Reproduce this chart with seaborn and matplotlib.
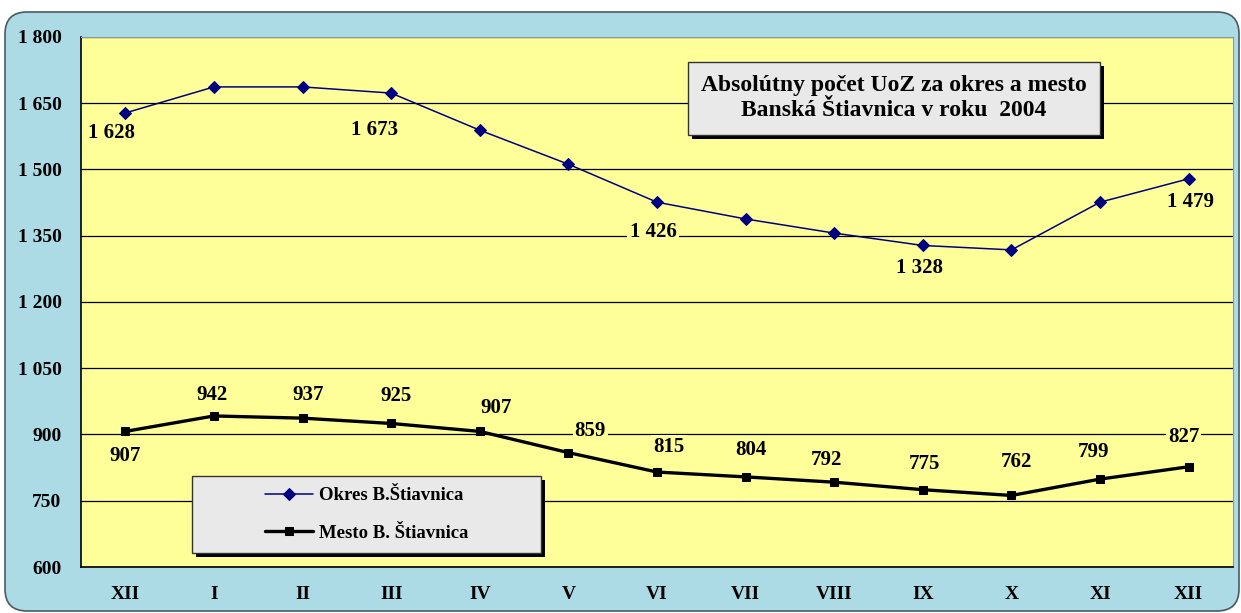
import numpy as np
import pandas as pd
import matplotlib
matplotlib.use("Agg")
import matplotlib.pyplot as plt
from matplotlib.patches import Rectangle, FancyBboxPatch
import seaborn as sns

# data
months = ["XII", "I", "II", "III", "IV", "V", "VI", "VII", "VIII", "IX", "X", "XI", "XII"]
okres = [1628, 1687, 1687, 1673, 1589, 1512, 1426, 1388, 1356, 1328, 1318, 1426, 1479]
mesto = [907, 942, 937, 925, 907, 859, 815, 804, 792, 775, 762, 799, 827]
yticks = [600, 750, 900, 1050, 1200, 1350, 1500, 1650, 1800]
title = "Absolútny počet UoZ za okres a mesto\nBanská Štiavnica v roku  2004"
label_okres = "Okres B.Štiavnica"
label_mesto = "Mesto B. Štiavnica"

# which points of the upper line carry a value label, and label offsets (px, down = +)
okres_lab_off = {0: (-14, 20), 3: (-17, 37), 6: (-4, 30), 9: (-3, 23), 12: (2, 23)}
mesto_lab_off = [(0, 25), (-2, -21), (6, -23), (5, -27), (16, -23), (22, -22), (12, -25),
                 (5, -27), (-8, -22), (2, -26), (5, -33), (-7, -27), (-5, -30)]

df = pd.DataFrame({"pos": np.arange(len(months)), "okres": okres, "mesto": mesto})

sns.set_style("white")
plt.rcParams["font.family"] = ["Liberation Serif", "DejaVu Serif"]
plt.rcParams["font.weight"] = "bold"
plt.rcParams["text.color"] = "black"
plt.rcParams["xtick.color"] = "black"
plt.rcParams["ytick.color"] = "black"

W, H = 1241, 613
fig = plt.figure(figsize=(W / 100, H / 100), dpi=100)
fig.patch.set_facecolor("white")

# outer rounded "water" frame
frame = FancyBboxPatch((0.05, 0.02), 12.34, 5.99, boxstyle="round,pad=0,rounding_size=0.22",
                       transform=fig.dpi_scale_trans, facecolor="#acdbe6",
                       edgecolor="#4a5a60", linewidth=1.2, zorder=-10)
fig.patches.append(frame)

L, R, T, B = 81, 1233, 37, 567
ax = fig.add_axes([L / W, (H - B) / H, (R - L) / W, (B - T) / H])
ax.set_zorder(1)
ax.set_facecolor("#ffff99")

yellow = "#ffff99"
sns.lineplot(data=df, x="pos", y="okres", ax=ax, color="#000080", linewidth=1.1,
             marker="D", markersize=6, markeredgecolor="#000080", label=label_okres)
sns.lineplot(data=df, x="pos", y="mesto", ax=ax, color="black", linewidth=2.4,
             marker="s", markersize=6, markeredgecolor="black", label=label_mesto)

ax.set_xlim(-0.5, len(months) - 0.5)
ax.set_ylim(yticks[0], yticks[-1])
ax.set_yticks(yticks)
ax.set_yticklabels([f"{v:,}".replace(",", " ") for v in yticks], fontsize=14, fontweight="bold")
ax.set_xticks(df["pos"])
ax.set_xticklabels(months, fontsize=14, fontweight="bold")
ax.set_xticks(np.arange(len(months) + 1) - 0.5, minor=True)
ax.tick_params(axis="x", which="major", length=0, pad=14)
ax.tick_params(axis="x", which="minor", length=5, width=1, color="black", direction="out")
ax.tick_params(axis="y", length=7, width=1, color="black", direction="out", pad=7)
ax.set_xlabel("")
ax.set_ylabel("")
ax.yaxis.grid(True, color="black", linewidth=0.9)
ax.set_axisbelow(True)
for s in ["left", "bottom"]:
    ax.spines[s].set_color("black")
    ax.spines[s].set_linewidth(1.2)
for s in ["top", "right"]:
    ax.spines[s].set_color("#8a9a9a")
    ax.spines[s].set_linewidth(0.8)

px = 0.72  # points per pixel at 100 dpi


def fmt(v):
    return f"{v:,}".replace(",", " ")


for i, (dx, dy) in okres_lab_off.items():
    ax.annotate(fmt(okres[i]), (df["pos"][i], okres[i]), xytext=(dx * px, -dy * px),
                textcoords="offset points", ha="center", va="center", fontsize=15,
                fontweight="bold", zorder=4,
                bbox=dict(facecolor=yellow, edgecolor="none", pad=1.5))
for i, (dx, dy) in enumerate(mesto_lab_off):
    ax.annotate(fmt(mesto[i]), (df["pos"][i], mesto[i]), xytext=(dx * px, -dy * px),
                textcoords="offset points", ha="center", va="center", fontsize=15,
                fontweight="bold", zorder=4,
                bbox=dict(facecolor=yellow, edgecolor="none", pad=1.5))

aw, ah = R - L, B - T


def box(x0, y0, x1, y1):
    # pixel box -> axes coords, with black drop shadow
    bx, by = (x0 - L) / aw, (B - y1) / ah
    bw, bh = (x1 - x0) / aw, (y1 - y0) / ah
    ax.add_patch(Rectangle((bx + 4 / aw, by - 4 / ah), bw, bh, transform=ax.transAxes,
                           facecolor="black", edgecolor="none", zorder=5))
    ax.add_patch(Rectangle((bx, by), bw, bh, transform=ax.transAxes,
                           facecolor="#e9e9e9", edgecolor="#333333", linewidth=1, zorder=6))
    return bx + bw / 2, by + bh / 2


cx, cy = box(688, 62, 1100, 135)
ax.text(cx, cy, title, transform=ax.transAxes, ha="center", va="center", fontsize=17,
        fontweight="bold", linespacing=1.25, zorder=7)

lx, ly = box(192, 476, 541, 553)
leg = ax.legend(loc="center", bbox_to_anchor=(lx, ly), frameon=False,
                handlelength=2.6, handletextpad=0.3, labelspacing=1.1,
                prop={"weight": "bold", "size": 13.5})
leg.set_zorder(8)

fig.savefig("out.png", dpi=100, facecolor=fig.get_facecolor())
